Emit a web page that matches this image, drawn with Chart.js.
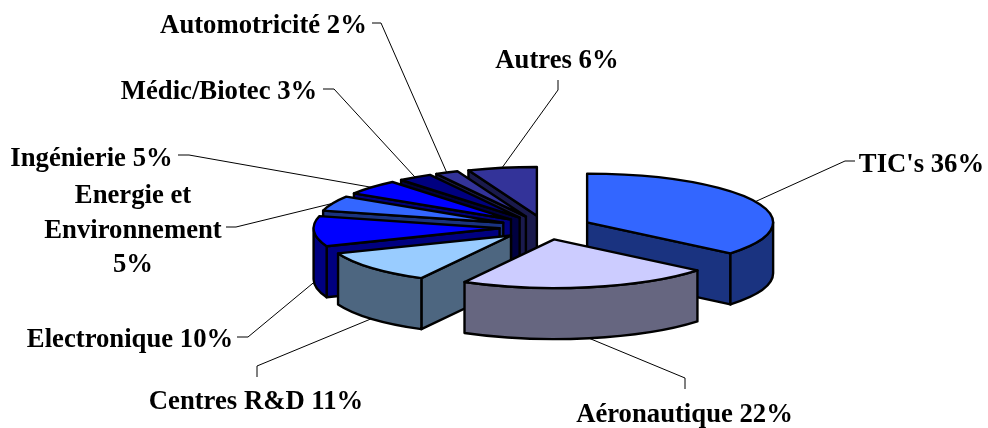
<!DOCTYPE html>
<html>
<head>
<meta charset="utf-8">
<style>
  html, body { margin: 0; padding: 0; background: #fff; }
</style>
<script src="https://cdn.jsdelivr.net/npm/chart.js@4"></script>
</head>
<body>
<canvas id="chart" width="988" height="428"></canvas>
<script>
// data
const categories = ["TIC's", 'Aéronautique', 'Centres R&D', 'Electronique', 'Energie et Environnement', 'Ingénierie', 'Médic/Biotec', 'Automotricité', 'Autres'];
const shares = [36, 22, 11, 10, 5, 5, 3, 2, 6];
const topColors = ['#3366FF', '#CCCCFF', '#99CCFF', '#0000FF', '#3366FF', '#0000FF', '#000080', '#333399', '#333399'];
const wallColors = ['#1A3380', '#666680', '#4D6680', '#000080', '#1A3380', '#000080', '#000040', '#1A1A4D', '#1A1A4D'];

// where the label text sits: lines, centre x, first baseline, then leader elbow points
const labelLayout = [
  { lines: ["TIC's 36%"], x: 921.5, y: 172, elbow: [[855, 161], [845, 161]] },
  { lines: ['Aéronautique 22%'], x: 684.5, y: 422, elbow: [[685, 389], [685, 378]] },
  { lines: ['Centres R&D 11%'], x: 256, y: 409, elbow: [[257, 377], [257, 366]] },
  { lines: ['Electronique 10%'], x: 130, y: 347, elbow: [[237, 337], [248, 337]] },
  { lines: ['Energie et', 'Environnement', '5%'], x: 133, y: 203, elbow: [[226, 227], [236, 227]] },
  { lines: ['Ingénierie 5%'], x: 91.5, y: 166, elbow: [[178, 155], [189, 155]] },
  { lines: ['Médic/Biotec 3%'], x: 219, y: 99, elbow: [[323, 89], [334, 89]] },
  { lines: ['Automotricité 2%'], x: 263.5, y: 33, elbow: [[372, 23], [381, 23]] },
  { lines: ['Autres 6%'], x: 557, y: 68, elbow: [[558, 80], [558, 90]] }
];

const tilt = 0.262;   // vertical squash of the pie
const depth = 51;     // wall height in px
const explode = 46;   // px each slice moves out
const penWidth = 2.4;

function rimPoint(arc, angle) {
  const c = centerPoint(arc);
  return {
    x: c.x + Math.cos(angle) * arc.outerRadius,
    y: c.y + tilt * Math.sin(angle) * arc.outerRadius
  };
}

function centerPoint(arc) {
  const mid = (arc.startAngle + arc.endAngle) / 2;
  return { x: arc.x + Math.cos(mid) * explode, y: arc.y + tilt * Math.sin(mid) * explode };
}

function outline(ctx, color) {
  ctx.fillStyle = color;
  ctx.fill();
  ctx.lineWidth = penWidth;
  ctx.lineJoin = 'round';
  ctx.strokeStyle = '#000';
  ctx.stroke();
}

function drawWalls(ctx, arc, color) {
  const c = centerPoint(arc);
  const r = arc.outerRadius;
  [arc.startAngle, arc.endAngle].forEach((a, i) => {
    // start edge faces the viewer on the left half, end edge on the right half
    const visible = i === 0 ? Math.cos(a) < 0 : Math.cos(a) > 0;
    if (!visible) return;
    const p = rimPoint(arc, a);
    ctx.beginPath();
    ctx.moveTo(c.x, c.y);
    ctx.lineTo(p.x, p.y);
    ctx.lineTo(p.x, p.y + depth);
    ctx.lineTo(c.x, c.y + depth);
    ctx.closePath();
    outline(ctx, color);
  });
  const from = Math.max(arc.startAngle, 0);
  const to = Math.min(arc.endAngle, Math.PI);
  if (to > from) {
    ctx.beginPath();
    ctx.ellipse(c.x, c.y, r, r * tilt, 0, from, to);
    ctx.ellipse(c.x, c.y + depth, r, r * tilt, 0, to, from, true);
    ctx.closePath();
    outline(ctx, color);
  }
}

const pie3d = {
  id: 'pie3d',
  beforeDatasetDraw(chart, args) {
    const ctx = chart.ctx;
    const arcs = chart.getDatasetMeta(args.index).data;
    // back to front, painter style
    const order = arcs.map((arc, i) => i).sort((a, b) => centerPoint(arcs[a]).y - centerPoint(arcs[b]).y);
    order.forEach(i => {
      const arc = arcs[i];
      const c = centerPoint(arc);
      drawWalls(ctx, arc, wallColors[i]);
      // the library fills the top face, squashed and moved out
      ctx.save();
      ctx.translate(c.x, c.y);
      ctx.scale(1, tilt);
      ctx.translate(-arc.x, -arc.y);
      arc.draw(ctx);
      ctx.restore();
      // pen has to stay round, so the outline is stroked without the squash
      ctx.beginPath();
      ctx.moveTo(c.x, c.y);
      ctx.ellipse(c.x, c.y, arc.outerRadius, arc.outerRadius * tilt, 0, arc.startAngle, arc.endAngle);
      ctx.closePath();
      ctx.lineWidth = penWidth;
      ctx.lineJoin = 'round';
      ctx.strokeStyle = '#000';
      ctx.stroke();
    });
    return false;
  },
  afterDatasetsDraw(chart) {
    const ctx = chart.ctx;
    const arcs = chart.getDatasetMeta(0).data;
    arcs.forEach((arc, i) => {
      const mid = (arc.startAngle + arc.endAngle) / 2;
      const rim = rimPoint(arc, mid);
      const drop = Math.sin(mid) > 0 ? depth : 0;
      const lay = labelLayout[i];
      ctx.beginPath();
      ctx.moveTo(lay.elbow[0][0], lay.elbow[0][1]);
      ctx.lineTo(lay.elbow[1][0], lay.elbow[1][1]);
      ctx.lineTo(rim.x, rim.y + drop);
      ctx.lineWidth = 1;
      ctx.strokeStyle = '#000';
      ctx.stroke();
      ctx.font = 'bold 26.7px "Liberation Serif"';
      ctx.fillStyle = '#000';
      ctx.textAlign = 'center';
      ctx.textBaseline = 'alphabetic';
      lay.lines.forEach((line, n) => ctx.fillText(line, lay.x, lay.y + n * 34.5));
    });
  }
};

new Chart(document.getElementById('chart'), {
  type: 'pie',
  data: {
    labels: categories,
    datasets: [{
      data: shares,
      backgroundColor: topColors,
      borderWidth: 0
    }]
  },
  options: {
    responsive: false,
    animation: false,
    radius: 186,
    layout: { padding: { left: 103, top: 27 } },
    plugins: { legend: { display: false }, tooltip: { enabled: false } }
  },
  plugins: [pie3d]
});
</script>
</body>
</html>
